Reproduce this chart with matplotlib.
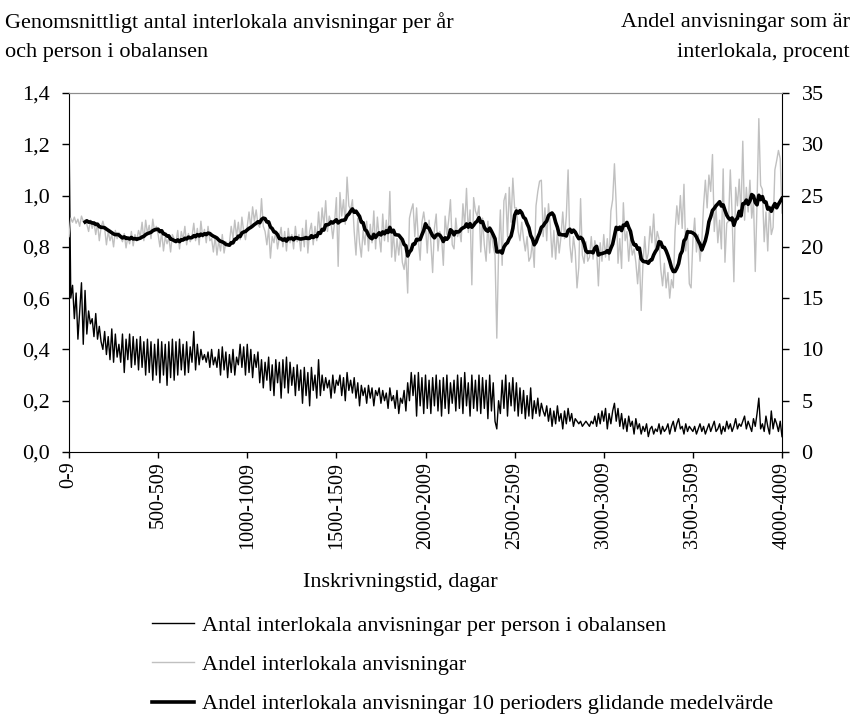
import matplotlib
matplotlib.use("Agg")
import matplotlib.pyplot as plt
import numpy as np
import pandas as pd

# Inskrivningstid in 10-day groups: 0-9, 10-19, ..., 4000-4009
categories = [f"{10 * i}-{10 * i + 9}" for i in range(401)]

# Genomsnittligt antal interlokala anvisningar per person i obalansen (left axis)
antal = [
    1.25, 0.60, 0.65, 0.52, 0.62, 0.44, 0.55, 0.66, 0.42, 0.63,
    0.46, 0.55, 0.50, 0.52, 0.45, 0.54, 0.44, 0.49, 0.43, 0.40,
    0.47, 0.38, 0.45, 0.36, 0.48, 0.35, 0.46, 0.37, 0.42, 0.35,
    0.46, 0.31, 0.44, 0.36, 0.46, 0.33, 0.45, 0.34, 0.44, 0.32,
    0.45, 0.33, 0.43, 0.30, 0.44, 0.31, 0.43, 0.28, 0.42, 0.30,
    0.44, 0.27, 0.43, 0.30, 0.42, 0.26, 0.43, 0.29, 0.44, 0.28,
    0.43, 0.30, 0.44, 0.32, 0.42, 0.30, 0.43, 0.31, 0.41, 0.35,
    0.47, 0.32, 0.42, 0.34, 0.40, 0.36, 0.38, 0.35, 0.39, 0.33,
    0.40, 0.34, 0.37, 0.33, 0.40, 0.30, 0.41, 0.32, 0.39, 0.29,
    0.38, 0.31, 0.40, 0.30, 0.37, 0.34, 0.42, 0.33, 0.41, 0.30,
    0.42, 0.31, 0.40, 0.29, 0.38, 0.33, 0.39, 0.27, 0.36, 0.25,
    0.35, 0.28, 0.37, 0.24, 0.34, 0.22, 0.36, 0.27, 0.35, 0.21,
    0.36, 0.25, 0.37, 0.23, 0.35, 0.26, 0.33, 0.22, 0.34, 0.24,
    0.32, 0.19, 0.33, 0.22, 0.31, 0.18, 0.33, 0.24, 0.30, 0.21,
    0.36, 0.22, 0.30, 0.24, 0.29, 0.25, 0.28, 0.21, 0.30, 0.23,
    0.28, 0.26, 0.30, 0.22, 0.29, 0.20, 0.31, 0.24, 0.28, 0.23,
    0.29, 0.21, 0.27, 0.18, 0.26, 0.22, 0.25, 0.19, 0.26, 0.21,
    0.25, 0.18, 0.24, 0.22, 0.25, 0.19, 0.24, 0.20, 0.23, 0.17,
    0.25, 0.20, 0.22, 0.17, 0.24, 0.15, 0.21, 0.19, 0.24, 0.16,
    0.27, 0.20, 0.31, 0.22, 0.30, 0.14, 0.31, 0.18, 0.29, 0.15,
    0.30, 0.17, 0.28, 0.15, 0.29, 0.18, 0.30, 0.16, 0.28, 0.14,
    0.29, 0.17, 0.30, 0.15, 0.27, 0.19, 0.28, 0.16, 0.30, 0.17,
    0.29, 0.15, 0.31, 0.18, 0.27, 0.14, 0.30, 0.17, 0.28, 0.16,
    0.30, 0.15, 0.29, 0.17, 0.28, 0.13, 0.30, 0.16, 0.27, 0.12,
    0.09, 0.20, 0.15, 0.28, 0.17, 0.30, 0.14, 0.27, 0.18, 0.29,
    0.16, 0.27, 0.14, 0.25, 0.15, 0.24, 0.13, 0.22, 0.14, 0.25,
    0.13, 0.20, 0.15, 0.21, 0.14, 0.19, 0.16, 0.14, 0.18, 0.12,
    0.17, 0.10, 0.16, 0.11, 0.18, 0.12, 0.15, 0.09, 0.16, 0.11,
    0.17, 0.12, 0.15, 0.10, 0.13, 0.12, 0.11, 0.12, 0.10, 0.11,
    0.12, 0.11, 0.10, 0.12, 0.11, 0.14, 0.10, 0.15, 0.11, 0.16,
    0.12, 0.17, 0.09, 0.15, 0.11, 0.16, 0.19, 0.12, 0.17, 0.10,
    0.15, 0.09, 0.13, 0.08, 0.14, 0.10, 0.12, 0.07, 0.13, 0.09,
    0.11, 0.07, 0.10, 0.08, 0.11, 0.06, 0.09, 0.10, 0.07, 0.09,
    0.08, 0.11, 0.07, 0.10, 0.08, 0.09, 0.11, 0.07, 0.10, 0.12,
    0.08, 0.11, 0.13, 0.09, 0.10, 0.07, 0.11, 0.08, 0.10, 0.09,
    0.08, 0.10, 0.07, 0.09, 0.11, 0.08, 0.10, 0.07, 0.09, 0.11,
    0.08, 0.10, 0.12, 0.08, 0.09, 0.11, 0.07, 0.10, 0.08, 0.12,
    0.09, 0.11, 0.08, 0.10, 0.13, 0.09, 0.11, 0.10, 0.12, 0.14,
    0.09, 0.12, 0.10, 0.08, 0.13, 0.10, 0.15, 0.21, 0.09, 0.11,
    0.08, 0.14, 0.10, 0.07, 0.16, 0.09, 0.13, 0.11, 0.08, 0.12,
    0.06,
]

# Andel interlokala anvisningar, procent (right axis)
andel = [
    21.0, 22.8, 22.4, 22.9, 22.3, 22.7, 22.0, 23.0, 22.5, 22.6,
    22.2, 21.5, 22.6, 21.8, 22.4, 21.2, 22.3, 20.6, 21.9, 22.5,
    21.8, 20.2, 21.5, 20.6, 21.2, 20.0, 21.6, 20.8, 21.4, 20.9,
    20.5, 21.3, 19.9, 21.0, 20.3, 21.5, 20.1, 21.2, 20.6, 21.6,
    21.0, 22.4, 20.6, 22.6, 21.3, 22.1, 20.8, 22.7, 21.5, 22.0,
    21.2, 20.0, 21.5, 19.6, 21.0, 20.3, 20.9, 19.5, 21.2, 20.8,
    20.4, 21.6, 19.8, 21.5, 20.7, 22.0, 20.2, 21.3, 20.5, 21.0,
    22.3, 20.6, 21.8, 20.2, 22.5, 20.9, 21.7, 20.4, 22.0, 20.6,
    20.8, 19.5, 21.0, 19.2, 20.6, 19.6, 21.2, 19.4, 20.5, 20.2,
    20.4, 22.0, 20.8, 22.6, 21.0, 22.4, 20.7, 22.9, 21.5, 20.7,
    22.0, 23.4, 21.8, 23.9, 22.5, 23.6, 22.2, 21.9, 24.7, 22.0,
    21.5, 20.2, 21.8, 18.9, 21.0, 20.4, 21.6, 19.8, 20.9, 21.9,
    20.0, 21.5, 19.6, 21.8, 20.4, 21.2, 19.8, 22.0, 20.5, 21.2,
    19.6, 21.8, 20.0, 22.6, 19.4, 21.5, 22.3, 20.2, 22.0, 20.6,
    23.4, 21.2, 23.8, 22.0, 24.5, 21.5, 23.0, 22.4, 20.8, 22.4,
    24.8, 18.1, 25.3, 23.0, 24.6, 22.2, 26.8, 24.0, 23.6, 24.6,
    21.5, 19.2, 22.8, 20.4, 19.0, 21.6, 20.2, 22.5, 19.6, 22.2,
    20.4, 23.5, 19.8, 22.9, 21.0, 19.5, 23.2, 20.6, 22.6, 20.5,
    25.4, 19.0, 21.5, 18.6, 20.8, 19.2, 21.0, 18.5, 17.8, 19.2,
    15.5, 22.8, 23.6, 24.2, 21.0, 23.8, 20.6, 18.7, 22.4, 23.4,
    22.0, 19.4, 22.6, 20.4, 17.5, 21.8, 23.2, 19.6, 21.5, 21.0,
    18.2, 23.0, 21.2, 22.6, 24.6, 20.2, 19.8, 22.8, 21.0, 21.6,
    20.5, 24.2, 22.0, 25.7, 21.4, 23.6, 16.3, 24.8, 23.5, 23.0,
    24.0, 19.5, 22.8, 20.2, 18.6, 22.5, 19.4, 21.8, 20.0, 19.2,
    11.1, 19.5, 23.6, 18.2, 24.5, 25.2, 21.0, 25.8, 22.4, 26.7,
    23.8, 23.8, 21.5, 20.6, 22.4, 20.8, 19.6, 21.0, 18.6, 19.0,
    20.5, 18.0, 24.0, 25.4, 26.4, 26.5, 21.0, 23.8, 20.6, 24.2,
    22.1, 19.0, 21.6, 18.8, 21.5, 19.4, 21.0, 23.4, 20.8, 23.0,
    27.5, 20.2, 18.5, 21.0, 19.6, 16.0, 18.0, 24.7, 19.2, 18.4,
    20.5, 18.6, 19.0, 21.0, 18.8, 20.6, 19.7, 16.2, 20.4, 18.6,
    21.2, 19.0, 20.8, 18.7, 23.5, 24.6, 28.1, 24.1, 18.4, 20.8,
    17.9, 24.3, 20.6, 21.5, 18.6, 20.9, 19.2, 19.8, 18.5, 16.4,
    19.0, 13.8, 18.3, 21.0, 18.6, 19.4, 22.0, 20.4, 23.2, 19.8,
    21.5, 20.8, 17.8, 16.2, 18.4, 16.0, 17.5, 15.0, 16.8, 16.0,
    21.5, 24.0, 22.2, 25.0, 21.8, 26.1, 19.6, 21.8, 16.4, 16.0,
    20.6, 22.8, 19.5, 21.2, 18.6, 20.5, 24.0, 26.5, 23.8, 27.0,
    25.4, 29.0, 21.5, 23.8, 20.4, 22.6, 19.8, 27.6, 18.5, 22.3,
    22.5, 27.5, 23.2, 16.6, 25.8, 24.0, 26.6, 23.2, 30.3, 22.6,
    25.8, 23.4, 26.5, 22.8, 24.5, 17.6, 24.3, 32.5, 26.0, 25.6,
    20.5, 23.4, 19.6, 24.0, 21.2, 21.9, 27.5, 28.4, 29.4, 28.6,
    23.3,
]

# 10 perioders glidande medelvärde
andel_ma = pd.Series(andel).rolling(10).mean()

plt.rcParams['font.family'] = ['Liberation Serif', 'DejaVu Serif']
plt.rcParams['font.size'] = 16

fig = plt.figure(figsize=(8.55, 7.2), dpi=100)
ax = fig.add_axes([69 / 855, 1 - 452 / 720, 713 / 855, 359 / 720])
ax2 = ax.twinx()

x = np.arange(len(categories))
l1, = ax.plot(x, antal, color='black', lw=1.0)
l2, = ax2.plot(x, andel, color='#c0c0c0', lw=1.0)
l3, = ax2.plot(x, andel_ma, color='black', lw=2.6)

ax.set_xlim(0, len(categories) - 1)
ax.set_ylim(0, 1.4)
ax2.set_ylim(0, 35)

left_ticks = np.arange(0, 1.41, 0.2)
ax.set_yticks(left_ticks)
ax.set_yticklabels([f"{v:.1f}".replace('.', ',') for v in left_ticks])
ax2.set_yticks(range(0, 36, 5))

xt = x[::50]
ax.set_xticks(xt)
ax.set_xticklabels([categories[i] for i in xt], rotation=90, fontsize=14.5)

ax.tick_params(axis='y', direction='out', length=5, width=1, pad=9)
ax.tick_params(axis='x', direction='out', length=4, width=1, pad=3)
ax2.tick_params(axis='y', direction='out', length=5, width=1, pad=9)

for a in (ax, ax2):
    a.spines['top'].set_color('#8c8c8c')
    a.spines['left'].set_color('black')
    a.spines['right'].set_color('black')
    a.spines['bottom'].set_color('black')
ax2.spines['left'].set_visible(False)
ax2.spines['bottom'].set_visible(False)
ax.spines['right'].set_visible(False)

fig.text(5 / 855, 1 - 23 / 720, "Genomsnittligt antal interlokala anvisningar per år",
         ha='left', va='center')
fig.text(5 / 855, 1 - 53 / 720, "och person i obalansen", ha='left', va='center')
fig.text(850 / 855, 1 - 23 / 720, "Andel anvisningar som är", ha='right', va='center')
fig.text(850 / 855, 1 - 53 / 720, "interlokala, procent", ha='right', va='center')

fig.text(400 / 855, 1 - 583 / 720, "Inskrivningstid, dagar", ha='center', va='center')

fig.legend(handles=[l1, l2, l3],
           labels=["Antal interlokala anvisningar per person i obalansen",
                   "Andel interlokala anvisningar",
                   "Andel interlokala anvisningar 10 perioders glidande medelvärde"],
           loc='upper left', bbox_to_anchor=(152 / 855, 1 - 615 / 720),
           frameon=False, borderpad=0, borderaxespad=0,
           handlelength=1.9, handletextpad=0.35, labelspacing=0.85)

fig.savefig('out.png', dpi=100)
